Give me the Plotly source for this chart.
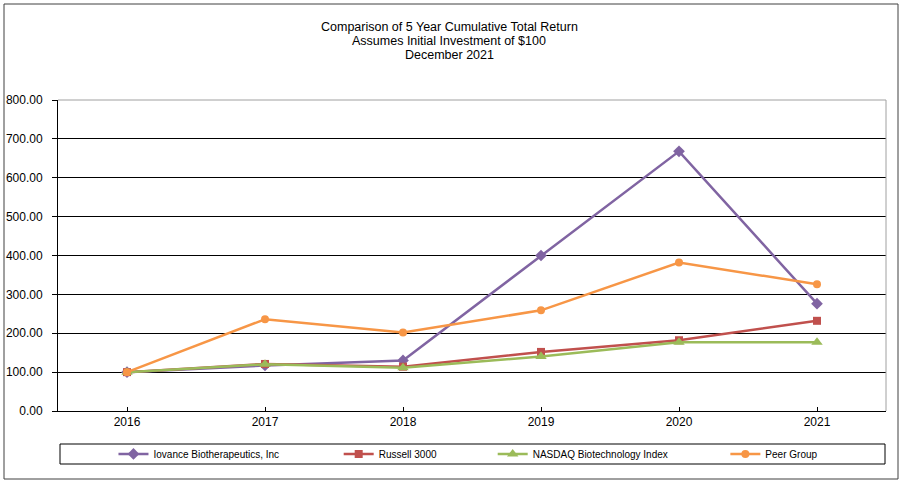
import plotly.graph_objects as go

years = ["2016", "2017", "2018", "2019", "2020", "2021"]
iovance = [100, 117, 130, 400, 668, 276]
russell = [100, 121, 114, 152, 182, 232]
nasdaq = [100, 120, 111, 140, 177, 177]
peer = [100, 236, 202, 259, 382, 326]

title_lines = [
    "Comparison of 5 Year Cumulative Total Return",
    "Assumes Initial Investment of $100",
    "December 2021",
]

series = [
    ("Iovance Biotherapeutics, Inc", iovance, "#8064A2", "diamond", 9, "legend", 0.067),
    ("Russell 3000", russell, "#C0504D", "square", 8, "legend2", 0.339),
    ("NASDAQ Biotechnology Index", nasdaq, "#9BBB59", "triangle-up", 10, "legend3", 0.525),
    ("Peer Group", peer, "#F79646", "circle", 8, "legend4", 0.806),
]

fig = go.Figure()
for name, vals, col, sym, sz, lg, lx in series:
    fig.add_trace(go.Scatter(
        x=years, y=vals, name=name, mode="lines+markers",
        line=dict(color=col, width=2.5),
        marker=dict(symbol=sym, size=sz, color=col),
        legend=lg,
    ))

legend_common = dict(
    orientation="h", yanchor="middle", y=-0.138, xanchor="left",
    bgcolor="rgba(0,0,0,0)", itemwidth=30,
    font=dict(family="Liberation Sans Narrow, Arial Narrow, Liberation Sans, Arial", size=10, color="#000000"),
)
layout_legends = {}
for name, vals, col, sym, sz, lg, lx in series:
    layout_legends[lg] = dict(legend_common, x=lx)

annotations = []
for i, t in enumerate(title_lines):
    py = 27 + 14 * i
    annotations.append(dict(
        text=t, xref="paper", yref="paper", x=(449 - 58) / 828, y=(411 - py) / 311,
        xanchor="center", yanchor="middle", showarrow=False,
        font=dict(size=12.5, color="#000000"),
    ))

fig.update_layout(
    width=903, height=483,
    margin=dict(l=58, r=17, t=100, b=72, autoexpand=False),
    paper_bgcolor="white", plot_bgcolor="white",
    font=dict(family="Liberation Sans, Arial, sans-serif", size=12, color="#000000"),
    annotations=annotations,
    xaxis=dict(
        type="category", categoryorder="array", categoryarray=years,
        range=[-0.5, 5.5], showgrid=False, showline=True, linecolor="#000000", linewidth=1,
        ticks="inside", ticklen=4, tickcolor="#000000", zeroline=False,
        automargin=False, tickfont=dict(size=12),
    ),
    yaxis=dict(
        range=[0, 800], dtick=100, tick0=0, tickformat=".2f",
        showgrid=True, gridcolor="#000000", gridwidth=1,
        showline=True, linecolor="#000000", linewidth=1,
        ticks="outside", ticklen=5, tickcolor="#000000", zeroline=False,
        ticklabelstandoff=7, automargin=False,
        tickfont=dict(size=12),
    ),
    showlegend=True,
    **layout_legends,
    shapes=[
        dict(type="path", xref="paper", yref="paper", path="M 0,1 L 1,1 L 1,0",
             line=dict(color="#A0A0A0", width=1), layer="above"),
        dict(type="rect", xref="paper", yref="paper",
             x0=(60 - 58) / 828, x1=(885 - 58) / 828,
             y0=(411 - 464) / 311, y1=(411 - 444) / 311,
             line=dict(color="#000000", width=1)),
        dict(type="rect", xref="paper", yref="paper",
             x0=(4 - 58) / 828, x1=(898 - 58) / 828,
             y0=(411 - 479) / 311, y1=(411 - 4) / 311,
             line=dict(color="#404040", width=1)),
    ],
)

fig.write_html("out.html", config={"displayModeBar": False},
               post_script="document.body.style.margin='0px';")
